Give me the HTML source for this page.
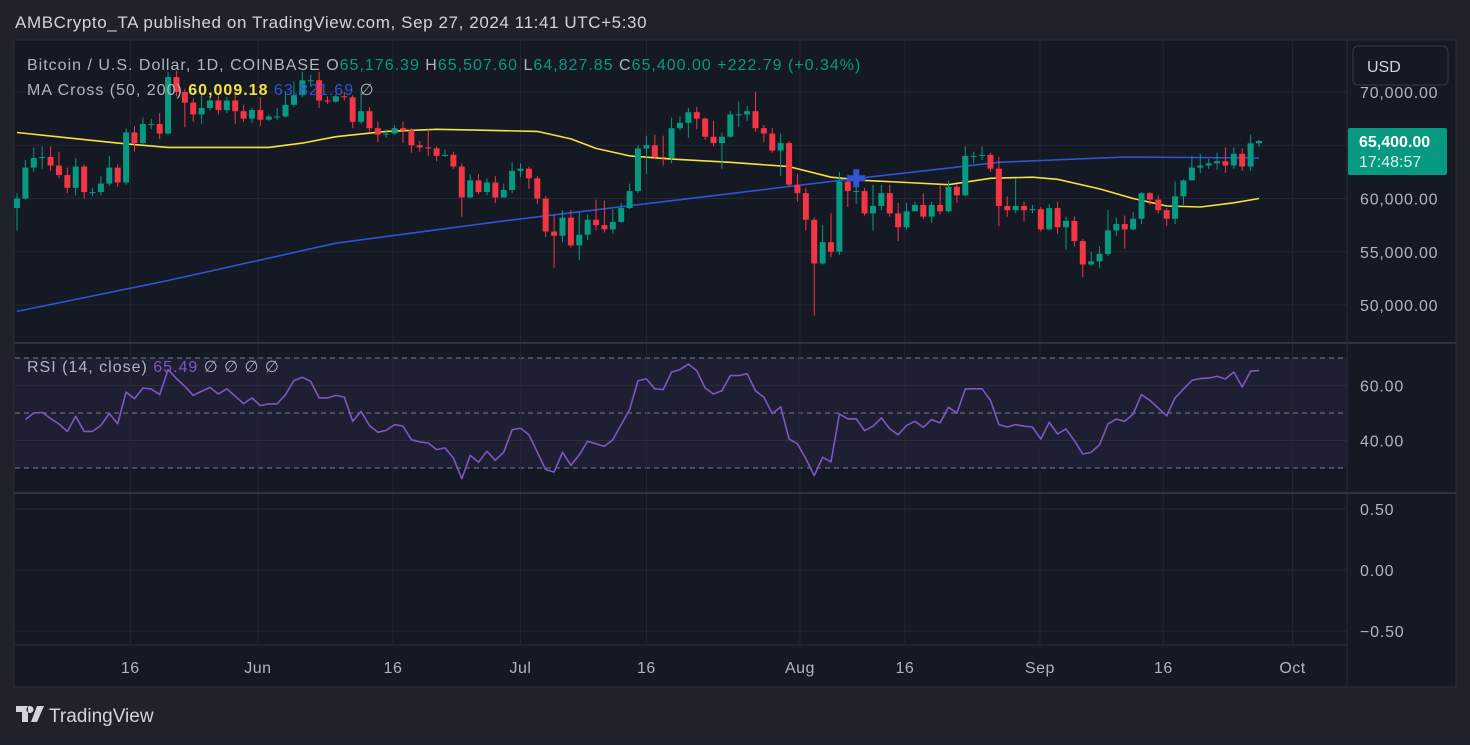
<!DOCTYPE html>
<html><head><meta charset="utf-8">
<style>
html,body{margin:0;padding:0;background:#1e222d;}
body{width:1470px;height:740px;overflow:hidden;font-family:"Liberation Sans",sans-serif;}
svg text{font-family:"Liberation Sans",sans-serif;}
</style></head>
<body>
<svg id="chart" width="1470" height="740" xmlns="http://www.w3.org/2000/svg">
  <rect x="0" y="0" width="1470" height="740" fill="#1f222b"/>
  <text x="15" y="28" fill="#d1d4dc" font-size="17" letter-spacing="0.6">AMBCrypto_TA published on TradingView.com, Sep 27, 2024 11:41 UTC+5:30</text>
  <rect x="14" y="40" width="1442" height="647" fill="#151924" stroke="#2a2e39" stroke-width="1"/>
  <rect x="15" y="358" width="1332" height="110" fill="#7e57c2" fill-opacity="0.1"/>
  <g id="grid"></g>
  <g id="ma"></g>
  <g id="candles"></g>
  <g id="rsi"></g>
  <g id="axes"></g>
  <line x1="14" y1="343" x2="1456" y2="343" stroke="#2e323d" stroke-width="2"/>
  <line x1="14" y1="493" x2="1456" y2="493" stroke="#2e323d" stroke-width="2"/>
  <line x1="14" y1="645" x2="1347" y2="645" stroke="#2a2e39" stroke-width="1"/>
  <line x1="1347" y1="40" x2="1347" y2="687" stroke="#2a2e39" stroke-width="1"/>
  <text x="27" y="70" font-size="16" letter-spacing="1" fill="#b2b5be">Bitcoin / U.S. Dollar, 1D, COINBASE <tspan>O</tspan><tspan fill="#089981">65,176.39</tspan> <tspan>H</tspan><tspan fill="#089981">65,507.60</tspan> <tspan>L</tspan><tspan fill="#089981">64,827.85</tspan> <tspan>C</tspan><tspan fill="#089981">65,400.00</tspan> <tspan fill="#089981">+222.79 (+0.34%)</tspan></text>
  <text x="27" y="95" font-size="16" letter-spacing="1" fill="#b2b5be">MA Cross (50, 200) <tspan fill="#f5e23b" font-weight="bold">60,009.18</tspan> <tspan fill="#2f55d4">63,821.69</tspan> <tspan>∅</tspan></text>
  <text x="27" y="372" font-size="16" letter-spacing="1" fill="#b2b5be">RSI (14, close) <tspan fill="#7e57c2">65.49</tspan> <tspan>∅  ∅  ∅  ∅</tspan></text>
  <rect x="1353" y="46" width="95" height="39" rx="5" fill="#151924" stroke="#363a45"/>
  <text x="1367" y="72" font-size="16" fill="#d1d4dc">USD</text>
  <g>
    <rect x="1348" y="128" width="99" height="47" rx="2" fill="#089981"/>
    <text x="1359" y="147" font-size="16" font-weight="bold" fill="#ffffff">65,400.00</text>
    <text x="1359" y="167" font-size="16" fill="#d8f0ea">17:48:57</text>
  </g>
  <g>
    <path d="M16 706 h12 v16 h-6 v-10 h-6z M30 706 a3.5 3.5 0 1 0 0.01 0z M37 706 h7 l-7 16 h-6z" fill="#d1d4dc"/>
    <text x="49" y="722" font-size="19" fill="#d1d4dc">TradingView</text>
  </g>
</svg>
<script>
// ---- data ----
const closes = [60.0,62.9,63.8,63.9,63.1,62.2,61.0,63.0,60.6,60.6,61.4,62.9,61.5,66.2,65.2,67.0,67.0,66.1,71.4,70.0,69.0,67.9,68.5,69.2,68.3,69.2,68.2,67.5,68.3,67.4,67.7,67.7,68.8,69.7,71.1,71.1,69.2,69.1,
69.6,69.5,67.2,68.2,66.6,66.0,66.1,66.6,66.4,65.0,64.8,64.7,64.0,64.1,63.0,60.1,61.7,60.6,61.5,60.1,60.8,62.6,62.8,61.9,60.0,56.9,56.5,58.2,55.6,56.6,58.0,57.5,57.1,57.8,59.1,60.7,64.7,65.0,63.9,63.8,
66.6,67.1,68.1,67.5,65.8,65.2,65.8,67.9,67.9,68.2,66.6,66.1,64.5,65.2,61.3,60.5,58.0,53.9,55.9,55.0,61.6,60.7,60.7,58.6,59.3,60.5,58.6,57.3,58.8,59.4,58.3,59.4,58.8,61.1,60.3,64.0,64.0,64.1,62.8,59.3,
58.9,59.3,58.9,59.0,57.1,59.1,57.3,57.9,56.0,53.8,54.1,54.8,57.0,57.6,57.1,58.1,60.5,59.9,58.9,58.1,60.2,61.7,62.9,63.1,63.3,63.5,63.1,64.2,63.0,65.18,65.4];
const highs = [60.5,63.6,64.8,64.9,64.9,64.4,62.9,63.8,63.2,61.0,62.1,64.0,63.2,66.6,66.8,67.6,67.5,68.0,71.9,72.0,70.3,69.4,69.8,69.6,69.7,69.5,69.8,68.8,68.5,69.5,67.9,68.5,70.1,71.0,71.9,71.6,71.9,69.6,
69.8,70.0,69.7,70.0,68.6,67.2,66.5,66.9,67.2,66.6,65.4,66.5,64.9,64.6,64.4,63.3,62.3,62.3,61.9,62.1,61.4,63.4,63.3,63.0,62.1,60.2,58.5,58.9,58.9,58.7,58.5,59.9,59.8,59.0,59.6,61.4,65.0,65.9,66.0,65.9,
67.6,67.7,68.5,68.6,67.6,67.3,66.2,68.2,69.1,68.7,70.0,66.9,66.6,66.1,65.4,62.3,61.0,58.2,57.5,58.6,62.5,61.9,61.3,61.0,61.3,61.3,61.3,59.6,59.6,59.7,60.5,59.7,61.3,61.7,61.3,64.9,64.4,64.9,64.3,63.9,
60.2,61.9,59.7,59.4,59.2,59.5,59.7,58.3,58.3,56.2,55.0,55.5,58.9,58.2,58.4,58.7,60.6,60.6,60.3,59.1,61.6,61.8,64.0,64.2,63.7,64.3,64.8,64.8,64.7,66.0,65.51];
const lows = [57.0,59.9,62.5,62.8,62.6,61.9,60.5,60.3,60.0,60.2,60.3,61.2,61.1,61.3,64.4,65.1,66.5,65.6,66.0,69.6,66.7,67.2,67.0,68.3,67.9,68.0,67.0,67.2,67.1,66.8,67.3,67.4,67.6,68.6,69.5,70.6,68.5,68.9,
69.0,69.2,66.6,67.0,66.3,65.3,65.7,66.0,65.2,64.3,64.4,64.0,63.5,63.9,62.8,58.3,60.0,60.4,60.3,59.6,60.1,60.5,62.0,60.9,59.5,56.4,53.5,55.9,55.4,54.2,56.1,57.0,56.8,56.7,57.7,59.0,60.5,62.3,63.7,63.1,
63.3,66.4,65.7,66.5,65.5,64.9,62.8,65.7,66.7,67.3,66.3,65.3,64.3,62.1,61.1,59.7,57.0,49.0,53.8,54.5,54.7,59.2,59.5,58.4,57.0,58.9,58.3,56.0,57.1,59.0,58.1,57.7,58.5,58.7,59.6,60.2,63.3,63.6,62.5,57.4,
58.3,58.6,57.9,58.6,56.9,57.0,56.7,55.2,55.5,52.6,53.7,53.5,54.6,56.5,55.3,57.0,57.6,59.4,58.6,57.4,57.6,59.4,62.5,62.4,62.8,62.7,62.4,62.8,62.6,62.6,64.83];
const firstOpen = 59.1;
const ma50Days = [0,6,12,18,24,30,34,38,44,50,56,62,66,69,73,78,85,92,97,101,106,111,116,121,124,129,133,137,141,145,148];
const ma50Vals = [66.2,65.7,65.2,64.8,64.8,64.8,65.2,65.8,66.3,66.5,66.4,66.3,65.6,64.7,64.0,63.7,63.4,63.0,62.0,61.7,61.5,61.3,61.9,62.0,61.8,60.9,60.0,59.3,59.2,59.6,60.0];
const ma200Days = [0,18,38,58,77,98,117,132,148];
const ma200Vals = [49.4,52.3,55.8,57.9,59.7,61.7,63.4,63.9,63.8];
const crossDay = 100, crossVal = 61.9;
const rsiVals = [47.6,50,50.2,48,46,43.3,48.8,43.3,43.3,45.5,49.8,46.1,57.6,55.2,59.1,58.7,56.7,65.8,62.5,59.7,56.4,57.9,59.3,56.9,58.8,56.1,53.4,55.5,52.7,53.3,53.3,56.7,61.8,63.0,61.5,55.5,55.5,56.4,55.8,47.0,50.6,45.4,43.0,43.7,45.8,45.2,40.3,39.5,39.1,36.7,37.3,33.6,26.1,34.6,32.1,36.1,32.8,35.7,43.9,44.5,42.1,35.8,29.4,28.5,35.7,31.0,34.8,39.7,38.8,37.9,40.3,45.8,51.2,61.8,62.4,58.8,
58.5,64.9,65.8,67.8,65.4,59.1,56.9,58.1,63.6,63.6,64.3,58.1,55.7,49.8,52.2,40.5,38.8,33.4,27.2,33.9,32.2,49.6,47.9,47.9,43.6,45.2,48.2,44.2,42.1,45.4,47.0,44.8,47.6,46.4,52.1,50.0,58.7,58.8,58.8,54.6,45.8,44.9,45.8,45.2,44.9,40.5,46.6,42.4,44.2,39.9,35.1,35.7,38.5,46.0,47.8,47.0,49.6,56.7,54.6,51.8,49.0,55.5,58.7,61.9,62.5,62.7,63.3,62.4,64.9,59.5,65.2,65.5];
const priceTicks = [70,60,55,50];
const rsiTicks = [60,40];
const oscTicks = [0.5,0,-0.5];
const timeLabels = ["16","Jun","16","Jul","16","Aug","16","Sep","16","Oct"];
const timeDays = [13.5,28.7,44.8,60,75,93.3,105.8,121.9,136.6,152];

// ---- scales ----
const NS="http://www.w3.org/2000/svg";
const X0=17, X1=1259;
function xOf(i){return X0+i*(X1-X0)/(closes.length-1);}
function yP(p){return 92+(70-p)*10.65;}
function yR(v){return 413-(v-50)*2.75;}
function yO(v){return 570-v*122;}
function mk(tag,attrs,parent){const e=document.createElementNS(NS,tag);for(const k in attrs)e.setAttribute(k,attrs[k]);parent.appendChild(e);return e;}

const grid=document.getElementById('grid');
const axes=document.getElementById('axes');
[70,65,60,55,50].forEach(p=>{const l=mk('line',{x1:15,x2:1347,y1:yP(p),y2:yP(p),stroke:'#232733','stroke-width':1},grid);

});
rsiTicks.forEach(v=>{const l=mk('line',{x1:15,x2:1347,y1:yR(v),y2:yR(v),stroke:'#2e2b40','stroke-width':1},grid);

});
[70,50,30].forEach(v=>{const l=mk('line',{x1:15,x2:1347,y1:yR(v),y2:yR(v),stroke:'#787b86','stroke-width':1,'stroke-dasharray':'5,4'},grid);

});
oscTicks.forEach(v=>{const l=mk('line',{x1:15,x2:1347,y1:yO(v),y2:yO(v),stroke:'#232733','stroke-width':1},grid);

});
timeDays.forEach((d,i)=>{const x=xOf(d);
const l=mk('line',{x1:x,x2:x,y1:41,y2:645,stroke:'#232733','stroke-width':1},grid);


const t=mk('text',{x:x,y:673,'text-anchor':'middle','font-size':16,'letter-spacing':0.5,fill:'#b2b5be'},axes);
t.textContent=timeLabels[i];

});
priceTicks.forEach(p=>{const t=mk('text',{x:1360,y:yP(p)+6,'font-size':16,'letter-spacing':0.8,fill:'#b2b5be'},axes);
t.textContent=(p*1000).toLocaleString('en-US')+'.00';

});
rsiTicks.forEach(v=>{const t=mk('text',{x:1360,y:yR(v)+6,'font-size':16,'letter-spacing':0.8,fill:'#b2b5be'},axes);
t.textContent=v.toFixed(2);

});
oscTicks.forEach(v=>{const t=mk('text',{x:1360,y:yO(v)+6,'font-size':16,'letter-spacing':0.8,fill:'#b2b5be'},axes);
t.textContent=(v<0?'\u2212':'')+Math.abs(v).toFixed(2);

});

// moving averages
const ma=document.getElementById('ma');
function poly(days,vals,color,name){const pts=days.map((d,i)=>xOf(d).toFixed(1)+','+yP(vals[i]).toFixed(1)).join(' ');
const p=mk('polyline',{points:pts,fill:'none',stroke:color,'stroke-width':1.6,'stroke-linejoin':'round'},ma);

}
poly(ma50Days,ma50Vals,'#f5e23b','ma50-line');
poly(ma200Days,ma200Vals,'#2f55d4','ma200-line');

// candles
const cg=document.getElementById('candles');
for(let i=0;i<closes.length;i++){
  const o=i===0?firstOpen:closes[i-1], c=closes[i];
  const col=c>=o?'#089981':'#f23645';
  const x=xOf(i);
  const w=mk('line',{x1:x,x2:x,y1:yP(highs[i]),y2:yP(lows[i]),stroke:col,'stroke-width':1},cg);
  
  
  const top=yP(Math.max(o,c)), bot=yP(Math.min(o,c));
  const b=mk('rect',{x:x-3,y:top,width:6,height:Math.max(1,bot-top),fill:col},cg);
  
  
}
const cx=xOf(crossDay), cy=yP(crossVal);
const cross=mk('path',{d:`M${cx-3} ${cy-9}h6v6h6v6h-6v6h-6v-6h-6v-6h6z`,fill:'#2f55d4'},cg);



// RSI
const rg=document.getElementById('rsi');
const off=closes.length-rsiVals.length;
const rp=rsiVals.map((v,i)=>xOf(i+off).toFixed(1)+','+yR(v).toFixed(1)).join(' ');
const rl=mk('polyline',{points:rp,fill:'none',stroke:'#7e57c2','stroke-width':1.6,'stroke-linejoin':'round'},rg);


</script>
</body></html>
